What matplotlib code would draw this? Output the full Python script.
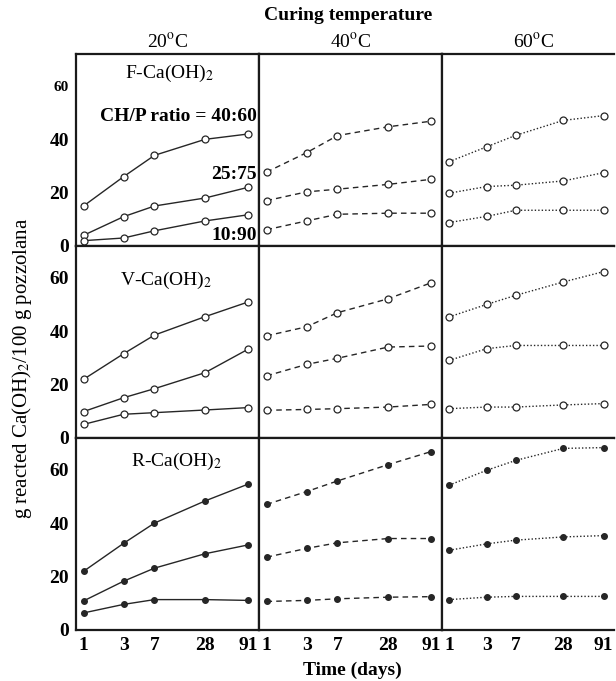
import matplotlib.pyplot as plt
import numpy as np

plt.rcParams['font.family'] = ['Liberation Serif', 'DejaVu Serif']
plt.rcParams['mathtext.fontset'] = 'stix'

days = [1, 3, 7, 28, 91]
temps = ['20$^{\\rm o}$C', '40$^{\\rm o}$C', '60$^{\\rm o}$C']
limes = ['F-Ca(OH)$_2$', 'V-Ca(OH)$_2$', 'R-Ca(OH)$_2$']
ratios = ['40:60', '25:75', '10:90']

# F-Ca(OH)2, rows = ratio 40:60, 25:75, 10:90
F_20 = [[15, 26, 34, 40, 42], [4, 11, 15, 18, 22], [2, 3, 5.7, 9.4, 11.7]]
F_40 = [[27.7, 35, 41.4, 44.7, 46.8], [17, 20.3, 21.3, 23.1, 25], [6.1, 9.4, 11.9, 12.3, 12.3]]
F_60 = [[31.6, 37.2, 41.5, 47.1, 48.9], [19.8, 22.3, 22.8, 24.4, 27.5], [8.8, 11.1, 13.4, 13.4, 13.4]]
# V-Ca(OH)2
V_20 = [[22, 31.6, 38.6, 45.5, 51], [9.9, 15.1, 18.5, 24.5, 33.3], [5.1, 8.9, 9.5, 10.5, 11.4]]
V_40 = [[38.3, 41.7, 47, 52.2, 58.2], [23.3, 27.6, 29.9, 34.1, 34.5], [10.4, 10.7, 11, 11.6, 12.6]]
V_60 = [[45.4, 50.1, 53.5, 58.5, 62.4], [29.1, 33.5, 34.7, 34.7, 34.7], [11, 11.6, 11.6, 12.4, 12.9]]
# R-Ca(OH)2
R_20 = [[22, 32.5, 40.1, 48.4, 54.7], [10.9, 18.3, 23.2, 28.6, 31.9], [6.4, 9.6, 11.4, 11.4, 11.1]]
R_40 = [[47.1, 51.9, 55.9, 62, 66.9], [27.3, 30.6, 32.7, 34.3, 34.3], [10.7, 11.1, 11.7, 12.3, 12.5]]
R_60 = [[54.3, 59.9, 63.6, 68.1, 68.4], [29.9, 32.3, 33.7, 34.9, 35.4], [11.4, 12.3, 12.6, 12.6, 12.6]]

data = [[F_20, F_40, F_60], [V_20, V_40, V_60], [R_20, R_40, R_60]]
styles = ['-', (0, (4, 3)), (0, (1, 1.5))]
col = '#262626'

W, H = 616, 681
fig = plt.figure(figsize=(W / 100, H / 100), dpi=100)

left = 76
pws = [183, 183, 172]   # last panel is cut by the right edge
top, ph = 54, 192

axes = []
for r in range(3):
    x = left
    for c in range(3):
        x0 = x / W
        x += pws[c]
        y0 = 1 - (top + (r + 1) * ph) / H
        ax = fig.add_axes([x0, y0, pws[c] / W, ph / H])
        axes.append(ax)
        for k in range(3):
            if r < 2:
                ax.plot(days, data[r][c][k], linestyle=styles[c], color=col, lw=1.0,
                        marker='o', ms=5, mfc='white', mec=col, mew=0.9)
            else:
                ax.plot(days, data[r][c][k], linestyle=styles[c], color=col, lw=1.0,
                        marker='o', ms=4, mfc=col, mec=col)
        ax.set_xscale('log')
        ax.set_xlim(0.814, 122.8)
        ax.set_ylim(0, 72)
        ax.minorticks_off()
        ax.set_xticks(days)
        ax.tick_params(length=0, labelsize=14, pad=5)
        for s in ax.spines.values():
            s.set_linewidth(1.6)
            s.set_color('#1a1a1a')
        if c == 2:
            ax.spines['right'].set_visible(False)
        if c == 0:
            ax.set_yticks([0, 20, 40, 60])
            for lab in ax.get_yticklabels():
                lab.set_fontweight('bold')
            if r == 0:
                ax.get_yticklabels()[3].set_fontsize(11)
        else:
            ax.set_yticks([])
        if r == 2:
            ax.set_xticklabels([str(d) for d in days], fontweight='bold')
        else:
            ax.set_xticklabels([])

# panel labels
axes[0].text(0.51, 0.90, limes[0], transform=axes[0].transAxes, ha='center', va='center', fontsize=14)
axes[3].text(0.49, 0.82, limes[1], transform=axes[3].transAxes, ha='center', va='center', fontsize=14)
axes[6].text(0.55, 0.88, limes[2], transform=axes[6].transAxes, ha='center', va='center', fontsize=14)

axes[0].text(0.99, 0.677, 'CH/P ratio = ' + ratios[0], transform=axes[0].transAxes,
             ha='right', va='center', fontsize=14, fontweight='bold')
axes[0].text(0.99, 0.37, ratios[1], transform=axes[0].transAxes,
             ha='right', va='center', fontsize=14, fontweight='bold')
axes[0].text(0.99, 0.055, ratios[2], transform=axes[0].transAxes,
             ha='right', va='center', fontsize=14, fontweight='bold')

# headers
fig.text(348 / W, 1 - 15 / H, 'Curing temperature', ha='center', va='center', fontsize=14, fontweight='bold')
for c in range(3):
    xc = left + sum(pws[:c]) + 91.5
    fig.text(xc / W, 1 - 42 / H, temps[c], ha='center', va='center', fontsize=14)

fig.text(352 / W, 1 - 670 / H, 'Time (days)', ha='center', va='center', fontsize=14, fontweight='bold')
fig.text(22 / W, 1 - 368 / H, 'g reacted Ca(OH)$_2$/100 g pozzolana', rotation=90,
         ha='center', va='center', fontsize=15)

plt.savefig('out.png', dpi=100)
